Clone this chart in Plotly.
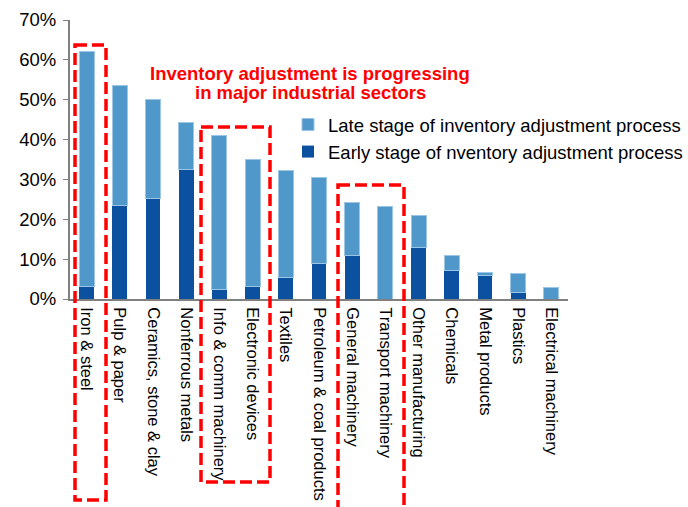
import plotly.graph_objects as go

categories = ["Iron & steel", "Pulp & paper", "Ceramics, stone & clay", "Nonferrous metals",
              "Info & comm machinery", "Electronic devices", "Textiles", "Petroleum & coal products",
              "General machinery", "Transport machinery", "Other manufacturing", "Chemicals",
              "Metal products", "Plastics", "Electrical machinery"]
total = [62.2, 53.5, 50.0, 44.4, 41.0, 35.0, 32.2, 30.5, 24.1, 23.3, 21.0, 10.9, 6.7, 6.5, 2.9]
early = [3.2, 23.5, 25.2, 32.5, 2.4, 3.2, 5.5, 9.0, 11.0, 0.0, 12.9, 7.2, 6.0, 1.7, 0.0]
late = [round(t - e, 1) for t, e in zip(total, early)]
y_ticks = [0, 10, 20, 30, 40, 50, 60, 70]

FONT = "Liberation Sans, Arial, sans-serif"
LIGHT = "#5097CA"
DARK = "#0B51A0"

fig = go.Figure()
fig.add_trace(go.Bar(x=categories, y=early, name="Early stage of nventory adjustment process",
                     marker=dict(color=DARK, line=dict(width=0))))
fig.add_trace(go.Bar(x=categories, y=late, name="Late stage of inventory adjustment process",
                     marker=dict(color=LIGHT, line=dict(width=1, color="#9CC6E6"))))

W, H = 688, 507
L, R, T, B = 70, 120, 20, 208
pw, ph = W - L - R, H - T - B

def px(x):
    return (x - L) / pw

def py(y):
    return (H - B - y) / ph

rects = [(75, 45, 106, 500), (201, 127, 270, 482), (338, 185, 404, 512)]
shapes = []
for x0, y0, x1, y1 in rects:
    shapes.append(dict(type="rect", xref="paper", yref="paper",
                       x0=px(x0), x1=px(x1), y0=py(y0), y1=py(y1),
                       line=dict(color="#FF0000", width=3.5, dash="12px,5px"),
                       fillcolor="rgba(0,0,0,0)"))

title_lines = ["Inventory adjustment is progressing", "in major industrial sectors"]
title_y = [73, 92]
annotations = [dict(text=f"<b>{t}</b>", xref="paper", yref="paper", x=px(310), y=py(yy),
                    xanchor="center", yanchor="middle", showarrow=False,
                    font=dict(family=FONT, size=18.5, color="#FF0000"))
               for t, yy in zip(title_lines, title_y)]

fig.update_layout(
    barmode="stack",
    bargap=0.55,
    width=W, height=H,
    margin=dict(l=L, r=R, t=T, b=B, pad=0, autoexpand=False),
    paper_bgcolor="white", plot_bgcolor="white",
    font=dict(family=FONT, size=17, color="#000000"),
    showlegend=True,
    legend=dict(x=px(288), y=py(106), xanchor="left", yanchor="top",
                font=dict(family=FONT, size=18.5, color="#000000"),
                bgcolor="rgba(0,0,0,0)", traceorder="reversed",
                itemwidth=30, tracegroupgap=0),
    xaxis=dict(tickangle=90, showline=True, linecolor="#808080", linewidth=2,
               ticks="", showgrid=False, automargin=False, ticklabelstandoff=3,
               tickfont=dict(family=FONT, size=16.5, color="#000000")),
    yaxis=dict(range=[0, 70], tickvals=y_ticks, ticktext=[f"{v}%" for v in y_ticks],
               showline=True, linecolor="#808080", linewidth=2, ticks="outside",
               ticklen=5, tickcolor="#808080", showgrid=False, zeroline=False,
               automargin=False, ticklabelstandoff=3,
               tickfont=dict(family=FONT, size=18.5, color="#000000")),
    shapes=shapes,
    annotations=annotations,
)

fig.write_html("out.html")
